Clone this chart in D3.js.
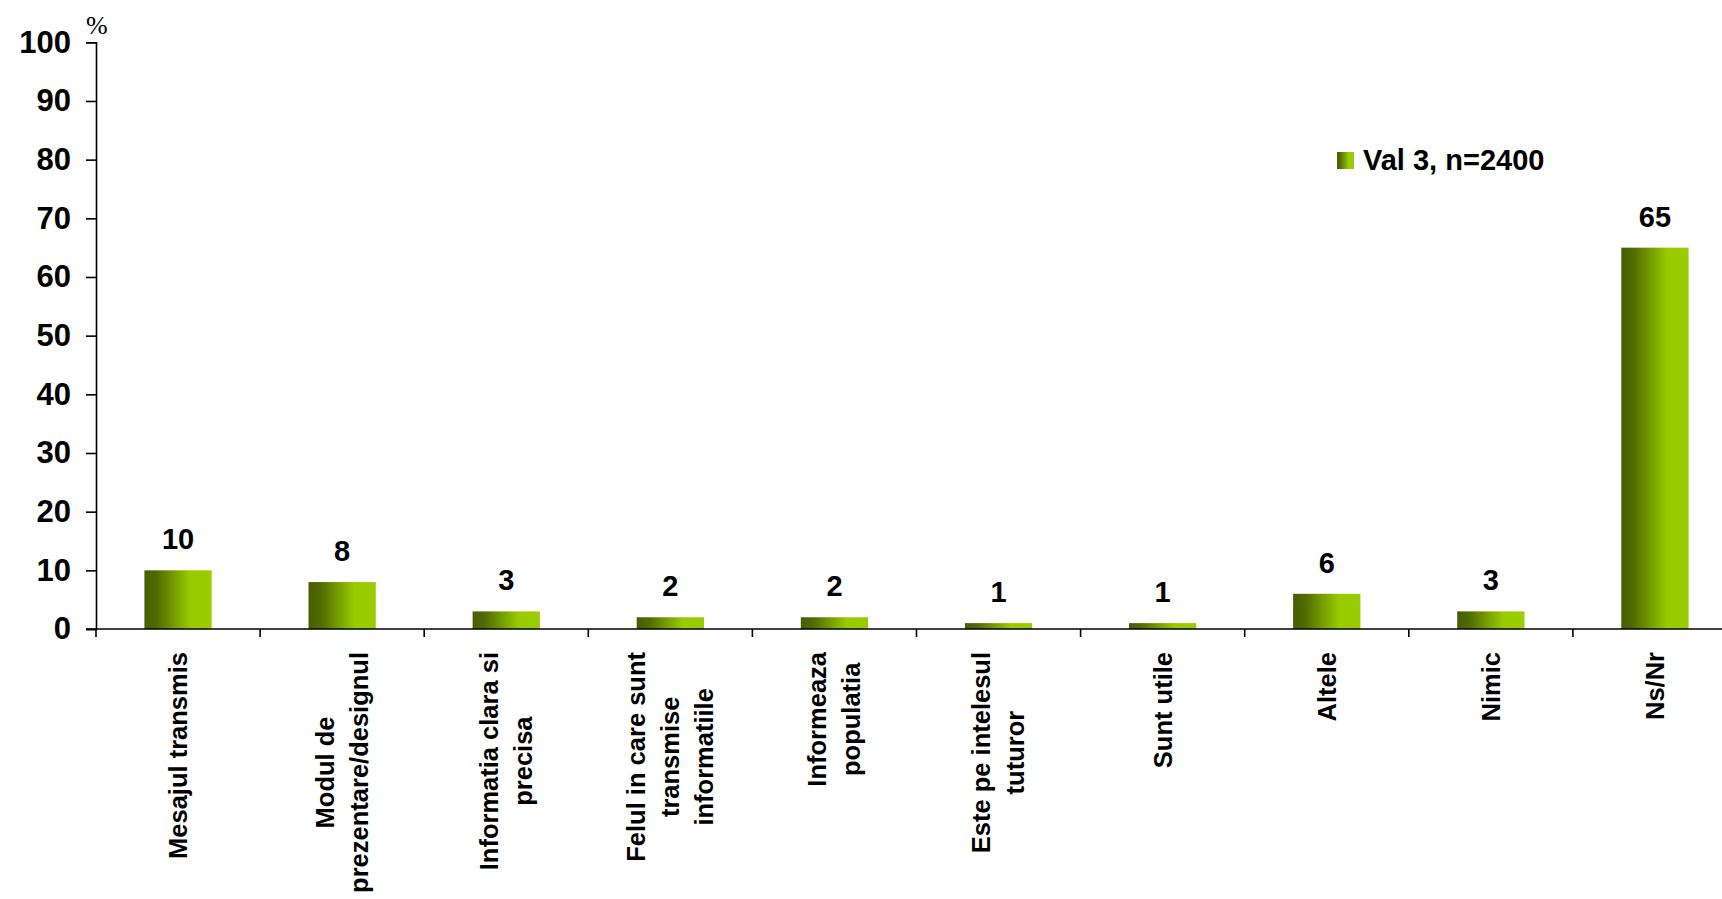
<!DOCTYPE html>
<html>
<head>
<meta charset="utf-8">
<script src="https://cdn.jsdelivr.net/npm/d3@7"></script>
<style>
  html, body { margin: 0; padding: 0; background: #fff; }
  svg { display: block; }
  text { font-family: "Liberation Sans", Arial, sans-serif; fill: #000; }
</style>
</head>
<body>
<svg id="chart" width="1722" height="899"></svg>
<script>
// ---- data ----
const categories = [
  ["Mesajul transmis"],
  ["Modul de", "prezentare/designul"],
  ["Informatia clara si", "precisa"],
  ["Felul in care sunt", "transmise", "informatiile"],
  ["Informeaza", "populatia"],
  ["Este pe intelesul", "tuturor"],
  ["Sunt utile"],
  ["Altele"],
  ["Nimic"],
  ["Ns/Nr"]
];
const values = [10, 8, 3, 2, 2, 1, 1, 6, 3, 65];
const yTicks = [0, 10, 20, 30, 40, 50, 60, 70, 80, 90, 100];
const seriesName = "Val 3, n=2400";
const unitLabel = "%";

// ---- layout ----
const W = 1722, H = 899;
const left = 96, bandStep = 164.1;
const y0 = 629, yTop = 42.3;

const svg = d3.select("#chart");

const defs = svg.append("defs");
const grad = defs.append("linearGradient").attr("id", "barGrad")
  .attr("x1", "0%").attr("x2", "100%").attr("y1", "0%").attr("y2", "0%");
[[0, "#465e00"], [0.18, "#506b00"], [0.45, "#779f00"], [0.68, "#98ca00"], [1, "#9acd00"]]
  .forEach(([o, c]) => grad.append("stop").attr("offset", o).attr("stop-color", c));

const idx = categories.map((d, i) => i);
const x = d3.scaleBand().domain(idx).range([left, left + bandStep * categories.length]).padding(0);
const y = d3.scaleLinear().domain([0, 100]).range([y0, yTop]);

const barW = x.bandwidth() * 0.41;

// bars
svg.append("g").selectAll("rect").data(values).join("rect")
  .attr("x", (d, i) => x(i) + x.bandwidth() / 2 - barW / 2)
  .attr("y", d => y(d))
  .attr("width", barW)
  .attr("height", d => y0 - y(d))
  .attr("fill", "url(#barGrad)");

// value labels
svg.append("g").selectAll("text").data(values).join("text")
  .attr("x", (d, i) => x(i) + x.bandwidth() / 2)
  .attr("y", d => y(d) - 21)
  .attr("text-anchor", "middle")
  .style("font-size", "29px").style("font-weight", "bold")
  .text(d => d);

// y axis
const yAxis = d3.axisLeft(y).tickValues(yTicks).tickSize(10).tickSizeOuter(10).tickPadding(15);
const gy = svg.append("g").attr("transform", `translate(${left},0)`).call(yAxis);
gy.select(".domain").attr("stroke", "#000").attr("stroke-width", 1.6);
gy.selectAll(".tick line").attr("stroke", "#000").attr("stroke-width", 1.6);
gy.selectAll(".tick text").style("font-size", "31px").style("font-weight", "bold")
  .style("font-family", "'Liberation Sans', Arial, sans-serif").attr("fill", "#000");

// x axis line + ticks at band boundaries
const gx = svg.append("g");
gx.append("line").attr("x1", left - 10).attr("x2", W).attr("y1", y0).attr("y2", y0)
  .attr("stroke", "#000").attr("stroke-width", 1.6);
const bounds = idx.map(i => x(i)).concat([x(idx.length - 1) + x.bandwidth()]);
gx.selectAll("line.tk").data(bounds).join("line").attr("class", "tk")
  .attr("x1", d => d).attr("x2", d => d).attr("y1", y0).attr("y2", y0 + 8)
  .attr("stroke", "#000").attr("stroke-width", 1.6);

// category labels (rotated, lines centered, block ending near axis)
const labelTop = 652, lineGap = 34;
categories.forEach((lines, i) => {
  const cx = x(i) + x.bandwidth() / 2;
  const g = svg.append("g").attr("transform", `translate(${cx},${labelTop}) rotate(-90)`);
  const n = lines.length;
  const texts = lines.map((t, j) => g.append("text")
    .attr("y", (j - (n - 1) / 2) * lineGap)
    .attr("dy", "0.35em")
    .attr("text-anchor", "middle")
    .style("font-size", "25.5px").style("font-weight", "bold")
    .text(t));
  const maxL = d3.max(texts, t => t.node().getComputedTextLength());
  texts.forEach(t => t.attr("x", -maxL / 2));
});

// unit label
svg.append("text").attr("x", 86).attr("y", 34)
  .style("font-family", "'Liberation Serif', 'Times New Roman', serif")
  .style("font-size", "26px").text(unitLabel);

// legend
const lg = svg.append("g").attr("transform", "translate(1337,152)");
lg.append("rect").attr("width", 17).attr("height", 17).attr("fill", "url(#barGrad)");
lg.append("text").attr("x", 26).attr("y", 17.5)
  .style("font-size", "29px").style("font-weight", "bold").text(seriesName);
</script>
</body>
</html>
